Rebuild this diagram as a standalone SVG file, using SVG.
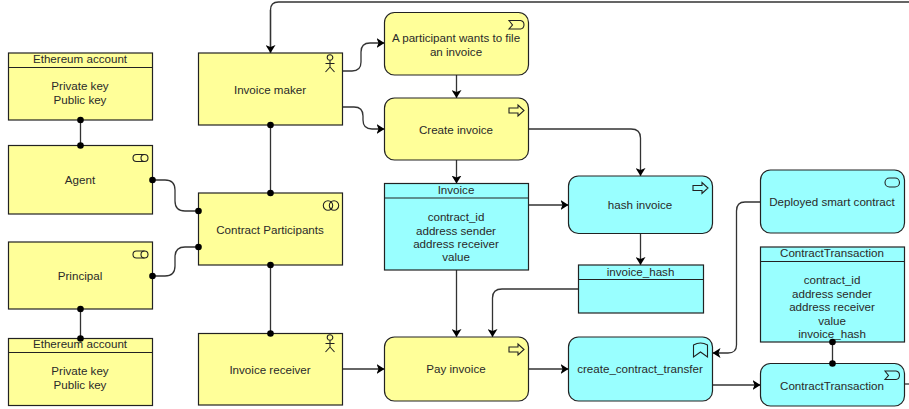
<svg xmlns="http://www.w3.org/2000/svg" width="909" height="409" viewBox="0 0 909 409">
<style>
text{font-family:"Liberation Sans",Arial,sans-serif;font-size:11.600px;fill:#2a2a2a;text-anchor:middle}
.y{fill:#ffff99;stroke:#222;stroke-width:1.2}
.c{fill:#99ffff;stroke:#222;stroke-width:1.2}
.l{fill:none;stroke:#222;stroke-width:1.2}
.i{fill:none;stroke:#222;stroke-width:1.1}
.e{fill:none;stroke:#333;stroke-width:1.3}
.d{fill:#000}
</style>
<defs>
<marker id="a" markerUnits="userSpaceOnUse" markerWidth="9" markerHeight="10" refX="8" refY="5" orient="auto"><path d="M0 0L8 5L0 10L2 5Z" fill="#000"/></marker>
<g id="actor"><circle cx="0" cy="-9.500" r="2.800" class="i"/><path d="M0-6.700V0M-4.500-3.500H4.500M0 0L-4.500 5M0 0L4.500 5" class="i"/></g>
<g id="collab"><circle cx="0" cy="0" r="4.700" class="i"/><circle cx="6" cy="0" r="4.700" class="i"/></g>
<g id="role"><path d="M-0.500 -3.500H7.500M-0.500 3.500H7.500M-0.500 -3.500A3.500 3.500 0 0 0 -0.500 3.500" class="i"/><circle cx="7.500" cy="0" r="3.500" class="i"/></g>
<path id="proc" d="M-12-2.500H-3V-5.500L3-0L-3 5.500V2.500H-12Z"/>
</defs>
<g id="connectors">
<path class="e" d="M270.500 53V10Q270.500 2 278.500 2H909" />
<path class="e" d="M270.500 10V53" marker-end="url(#a)"/>
<path class="e" d="M342.500 71H352Q361 71 361 62V52Q361 43 370 43H384.500" marker-end="url(#a)"/>
<path class="e" d="M342.500 107H354Q363 107 363 116V120Q363 129 372 129H384.500" marker-end="url(#a)"/>
<path class="e" d="M456.500 75V98" marker-end="url(#a)"/>
<path class="e" d="M456.500 160V183.500" marker-end="url(#a)"/>
<path class="e" d="M528.500 129H631Q640.500 129 640.500 138V176" marker-end="url(#a)"/>
<path class="e" d="M528.500 205H568.500" marker-end="url(#a)"/>
<path class="e" d="M640.500 233.500V265" marker-end="url(#a)"/>
<path class="e" d="M456.500 270V337" marker-end="url(#a)"/>
<path class="e" d="M578.500 289H502Q492.500 289 492.500 298V337" marker-end="url(#a)"/>
<path class="e" d="M342.500 369H384.500" marker-end="url(#a)"/>
<path class="e" d="M528.500 369H568.500" marker-end="url(#a)"/>
<path class="e" d="M712.500 385H760.500" marker-end="url(#a)"/>
<path class="e" d="M760.500 202H745Q736.500 202 736.500 211V345Q736.500 353 728 353H712.500" marker-end="url(#a)"/>
<path class="e" d="M904.500 384H909"/>
<path class="e" d="M80.500 120V145.500M80.500 309V338.500M270.500 125V193M270.500 265V333.500M832.500 342V363.500"/>
<path class="e" d="M152.500 180H165Q175 180 175 190V201Q175 211 185 211H198.500"/>
<path class="e" d="M152.500 276H165Q175 276 175 266V257Q175 247 185 247H198.500"/>
</g>
<g id="eth1"><rect class="y" x="8.500" y="53" width="144" height="67"/><path class="l" d="M8.500 67.500H152.500"/><text x="80" y="63">Ethereum account</text><text x="80" y="90">Private key</text><text x="80" y="103.500">Public key</text></g>
<g id="agent"><rect class="y" x="8.500" y="145.500" width="144" height="68.500"/><use href="#role" x="137" y="158"/><text x="80" y="184">Agent</text></g>
<g id="principal"><rect class="y" x="8.500" y="242" width="144" height="67"/><use href="#role" x="137" y="254.500"/><text x="80" y="280">Principal</text></g>
<g id="eth2"><rect class="y" x="8.500" y="338.500" width="144" height="67"/><path class="l" d="M8.500 352.500H152.500"/><text x="80" y="348">Ethereum account</text><text x="80" y="375">Private key</text><text x="80" y="388.500">Public key</text></g>
<g id="invoice-maker"><rect class="y" x="198.500" y="53" width="144" height="72"/><use href="#actor" x="330" y="67"/><text x="270" y="94">Invoice maker</text></g>
<g id="contract-participants"><rect class="y" x="198.500" y="193" width="144" height="72"/><use href="#collab" x="328" y="205.500"/><text x="270" y="234">Contract Participants</text></g>
<g id="invoice-receiver"><rect class="y" x="198.500" y="333.500" width="144" height="71.500"/><use href="#actor" x="330" y="347"/><text x="270" y="374">Invoice receiver</text></g>
<g id="wants"><rect class="y" x="384.500" y="12.500" width="144" height="62.500" rx="10"/><path class="i" d="M509 20.500H520.500A4 4.500 0 0 1 524 25A4 4.500 0 0 1 520.500 29H509L512.500 25Z"/><text x="456" y="42">A participant wants to file</text><text x="456" y="55.500">an invoice</text></g>
<g id="create-invoice"><rect class="y" x="384.500" y="98" width="144" height="62" rx="10"/><use href="#proc" x="521" y="110.500" class="i"/><text x="456" y="134">Create invoice</text></g>
<g id="invoice"><rect class="c" x="384.500" y="183.500" width="144" height="86.500"/><path class="l" d="M384.500 198H528.500"/><text x="456" y="194">Invoice</text><text x="456" y="221">contract_id</text><text x="456" y="234.500">address sender</text><text x="456" y="248">address receiver</text><text x="456" y="261">value</text></g>
<g id="pay-invoice"><rect class="y" x="384.500" y="337" width="144" height="64" rx="10"/><use href="#proc" x="521" y="349.500" class="i"/><text x="456" y="373">Pay invoice</text></g>
<g id="hash-invoice"><rect class="c" x="568.500" y="176" width="144" height="57.500" rx="10"/><use href="#proc" x="705" y="188" class="i"/><text x="640" y="209">hash invoice</text></g>
<g id="invoice-hash"><rect class="c" x="578.500" y="265" width="125" height="48"/><path class="l" d="M578.500 279.500H703.500"/><text x="640.500" y="275.500">invoice_hash</text></g>
<g id="create-contract-transfer"><rect class="c" x="568.500" y="337" width="144" height="64" rx="10"/><path class="i" d="M693.500 345Q700.500 341 707.500 345V357L700.500 352L693.500 357Z"/><text x="640" y="373">create_contract_transfer</text></g>
<g id="deployed"><rect class="c" x="760.500" y="170" width="144" height="63" rx="10"/><rect class="i" x="885" y="178" width="14.500" height="9" rx="4.500"/><text x="832" y="206">Deployed smart contract</text></g>
<g id="contract-transaction-data"><rect class="c" x="760.500" y="247" width="144" height="95"/><path class="l" d="M760.500 261.500H904.500"/><text x="832" y="257">ContractTransaction</text><text x="832" y="284">contract_id</text><text x="832" y="297.500">address sender</text><text x="832" y="311">address receiver</text><text x="832" y="324.500">value</text><text x="832" y="338">invoice_hash</text></g>
<g id="contract-transaction"><rect class="c" x="760.500" y="363.500" width="144" height="42.500" rx="10"/><path class="i" d="M885 371H896A4 4.500 0 0 1 899.500 375.500A4 4.500 0 0 1 896 379.500H885L888.500 375.500Z"/><text x="832" y="390">ContractTransaction</text></g>
<g id="junctions" class="d">
<circle cx="80.500" cy="120" r="3.300"/><circle cx="80.500" cy="145.500" r="3.300"/>
<circle cx="80.500" cy="309" r="3.300"/><circle cx="80.500" cy="338.500" r="3.300"/>
<circle cx="270.500" cy="125" r="3.300"/><circle cx="270.500" cy="193" r="3.300"/>
<circle cx="270.500" cy="265" r="3.300"/><circle cx="270.500" cy="333.500" r="3.300"/>
<circle cx="152.500" cy="180" r="3.300"/><circle cx="198.500" cy="211" r="3.300"/>
<circle cx="152.500" cy="276" r="3.300"/><circle cx="198.500" cy="247" r="3.300"/>
<circle cx="832.500" cy="342" r="3.300"/><circle cx="832.500" cy="363.500" r="3.300"/>
</g>
</svg>
